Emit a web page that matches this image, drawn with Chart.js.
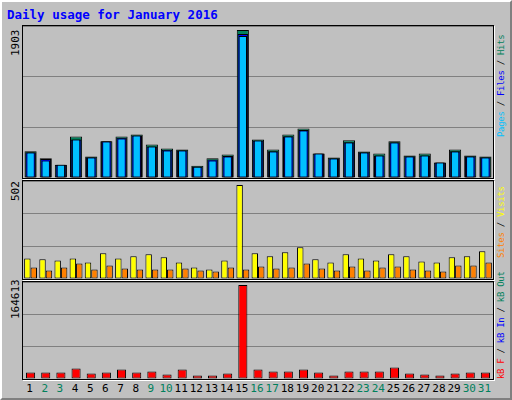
<!DOCTYPE html>
<html><head><meta charset="utf-8">
<script src="https://cdn.jsdelivr.net/npm/chart.js@4"></script>
<style>
body{margin:0;background:#fff}
#frame{position:absolute;left:0;top:0;width:508px;height:396px;background:#c0c0c0;border:2px solid;border-color:#fff #808080 #808080 #fff;font-family:"DejaVu Sans Mono",monospace}
.panel{position:absolute;left:20px;width:470px;border:1px solid #000;box-shadow:1px 1px 0 #fff}
.panel canvas{display:block}
.t{position:absolute;white-space:nowrap}
.rot{position:absolute;white-space:nowrap;transform-origin:0 0;transform:rotate(-90deg);font-size:11px}
.rr{font-size:9px;letter-spacing:-0.3px}
</style></head><body>
<div id="frame">
 <div class="t" style="left:5px;top:5px;font-weight:bold;color:#0000ff;font-size:12.5px">Daily usage for January 2016</div>
 <div class="panel" style="top:23px;height:152px"><canvas id="c1"></canvas></div>
 <div class="panel" style="top:178px;height:98px"><canvas id="c2"></canvas></div>
 <div class="panel" style="top:279px;height:97px"><canvas id="c3"></canvas></div>
 <div class="rot" style="left:7px;top:54px">1903</div>
 <div class="rot" style="left:7px;top:199px">502</div>
 <div class="rot" style="left:7px;top:317px">164613</div>
 <div class="rot rr" style="left:494px;top:135px"><span style="color:#00c0ff">Pages</span> / <span style="color:#0000ff">Files</span> / <span style="color:#00805c">Hits</span></div>
 <div class="rot rr" style="left:494px;top:256px"><span style="color:#ff8000">Sites</span> / <span style="color:#ffff00">Visits</span></div>
 <div class="rot rr" style="left:494px;top:377px"><span style="color:#ff0000">kB F</span> / <span style="color:#0000ff">kB In</span> / <span style="color:#00805c">kB Out</span></div>
 <div id="xl"></div>
</div>
<script>
const days = ['1','2','3','4','5','6','7','8','9','10','11','12','13','14','15','16','17','18','19','20','21','22','23','24','25','26','27','28','29','30','31'];
const weekend = [2,3,9,10,16,17,23,24,30,31];
const hits  = [344,254,172,534,276,474,534,560,431,379,366,159,254,301,1903,495,366,560,637,314,263,486,340,314,474,288,314,198,366,288,276];
const files = [331,245,172,495,267,474,517,547,405,362,357,146,237,284,1851,482,344,538,616,314,254,461,331,288,461,280,288,198,344,280,267];
const pages = [327,224,172,495,263,469,508,547,405,353,353,146,224,276,1825,482,340,534,611,314,250,456,327,288,456,276,288,198,340,276,263];
const visits = [110,105,99,110,88,137,110,121,132,116,88,61,51,99,502,137,121,143,170,105,88,132,110,99,132,121,94,88,116,121,148];
const sites  = [61,45,61,83,51,72,56,51,51,51,56,45,40,61,51,67,56,61,83,56,45,67,45,61,67,51,45,40,72,72,88];
const kbF = [11373,11373,11373,18557,9578,11373,16761,11373,13169,7782,16761,5986,5986,9578,164613,16761,13169,13169,16761,11373,5986,13169,13169,13169,20352,9578,7782,5986,9578,11373,11373];

const ds = (data, color, bp, cp, order) => ({data, backgroundColor: color, borderColor: '#000', borderWidth: 1, borderSkipped: false, barPercentage: bp, categoryPercentage: cp, order});
const make = (id, h, sets, max, grouped) => {
  const c = document.getElementById(id);
  c.width = 470; c.height = h;
  new Chart(c, {
    type: 'bar',
    data: {labels: days, datasets: sets},
    options: {
      responsive: false, animation: false,
      layout: {padding: 0},
      datasets: {bar: {grouped}},
      plugins: {legend: {display: false}, tooltip: {enabled: false}},
      scales: {
        x: {display: false},
        y: {min: 0, max, ticks: {display: false, stepSize: max / 3}, grid: {color: '#808080', drawTicks: false}, border: {display: false}}
      }
    }
  });
};
make('c1', 152, [ds(hits, '#00805c', 0.8, 1, 3), ds(files, '#0000ff', 0.7, 1, 2), ds(pages, '#00c0ff', 0.55, 1, 1)], 1955, false);
make('c2', 98, [ds(visits, '#ffff00', 1, 0.85), ds(sites, '#ff8000', 1, 0.85)], 523, true);
make('c3', 97, [ds(kbF, '#ff0000', 0.6, 1)], 170000, true);

const xl = document.getElementById('xl');
days.forEach((d, i) => {
  const e = document.createElement('div');
  e.className = 't';
  e.textContent = d;
  e.style.cssText = `left:${20 + i * 470 / 31}px;width:${470 / 31}px;text-align:center;top:380px;font-size:11px;color:${weekend.includes(+d) ? '#00805c' : '#000'}`;
  xl.appendChild(e);
});
</script>
</body></html>
